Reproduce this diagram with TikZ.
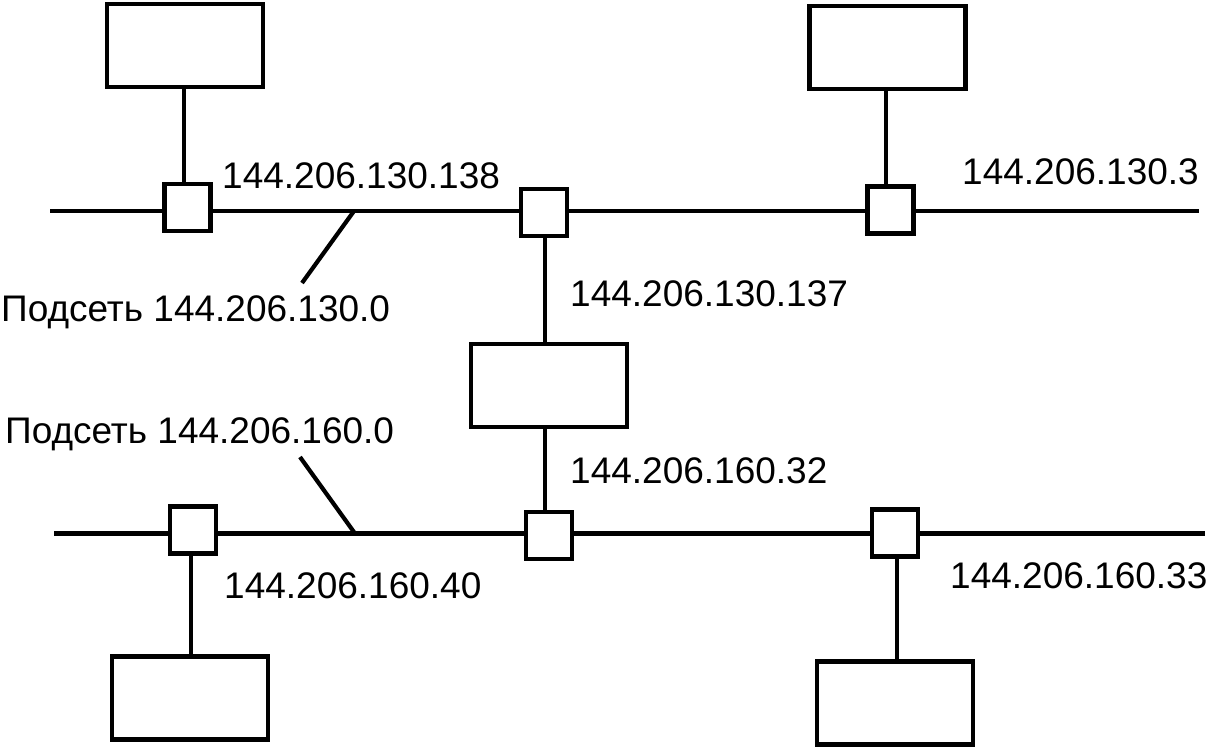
\documentclass[tikz,border=0pt]{standalone}
\usepackage{fontspec}
\setmainfont{Liberation Sans}
\begin{document}
\begin{tikzpicture}[x=1pt,y=-1pt,
  wire/.style={line width=4.2pt},
  hostbox/.style={draw,line width=4.2pt,fill=white,minimum width=156pt,minimum height=83pt,inner sep=0pt,outer sep=0pt},
  port/.style={draw,line width=4.2pt,fill=white,minimum width=46pt,minimum height=47pt,inner sep=0pt,outer sep=0pt},
  addr/.style={anchor=base west,inner sep=0pt,font=\fontsize{37}{41}\selectfont}]
\useasboundingbox (0,0) rectangle (1210,748);
% bus end points
\coordinate (b1l) at (50,211);
\coordinate (b1r) at (1199,211);
\coordinate (b2l) at (54,533.5);
\coordinate (b2r) at (1205,533.5);
\draw[wire] (b1l) -- (b1r);
\draw[wire] (b2l) -- (b2r);
% hosts and router
\node[hostbox] (h1) at (185,45.5) {};
\node[hostbox] (h2) at (887.5,47.5) {};
\node[hostbox] (rt) at (549,385.5) {};
\node[hostbox] (h3) at (190,698) {};
\node[hostbox] (h4) at (895,703) {};
% ports
\node[port] (p1) at (187.5,207.5) {};
\node[port] (p2) at (544,212.5) {};
\node[port] (p3) at (890.5,210) {};
\node[port] (p4) at (549,535.5) {};
\node[port] (p5) at (193,530) {};
\node[port] (p6) at (895,533) {};
% vertical links
\coordinate (v1) at (184,0);
\coordinate (v2) at (886,0);
\coordinate (v3) at (545,0);
\coordinate (v5) at (191,0);
\coordinate (v6) at (897,0);
\draw[wire] (v1 |- h1.south) -- (v1 |- p1.north);
\draw[wire] (v2 |- h2.south) -- (v2 |- p3.north);
\draw[wire] (v3 |- p2.south) -- (v3 |- rt.north);
\draw[wire] (v3 |- rt.south) -- (v3 |- p4.north);
\draw[wire] (v5 |- p5.south) -- (v5 |- h3.north);
\draw[wire] (v6 |- p6.south) -- (v6 |- h4.north);
% subnet ticks
\coordinate (t1a) at (354,211);
\coordinate (t1b) at (302,283);
\coordinate (t2a) at (300,457);
\coordinate (t2b) at (355,533.5);
\draw[wire] (t1a) -- (t1b);
\draw[wire] (t2a) -- (t2b);
% labels
\node[addr] (l1) at (222,188) {144.206.130.138};
\node[addr] (l2) at (962,184) {144.206.130.3};
\node[addr] (l3) at (570,306) {144.206.130.137};
\node[addr] (l4) at (1,321.5) {Подсеть 144.206.130.0};
\node[addr] (l5) at (5,443) {Подсеть 144.206.160.0};
\node[addr] (l6) at (570,483) {144.206.160.32};
\node[addr] (l7) at (224,598) {144.206.160.40};
\node[addr] (l8) at (950,588) {144.206.160.33};
\end{tikzpicture}
\end{document}
